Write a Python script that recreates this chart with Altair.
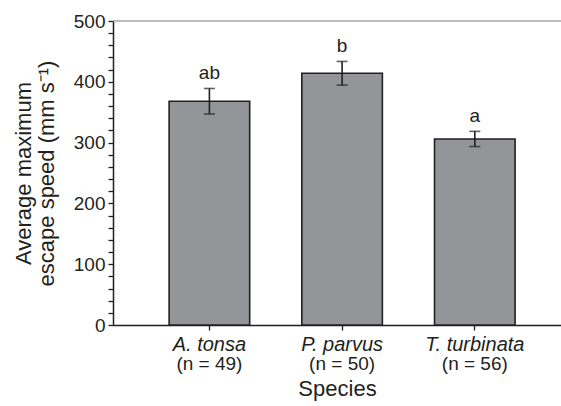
import altair as alt
import pandas as pd

species = ["A. tonsa", "P. parvus", "T. turbinata"]
n_labels = ["(n = 49)", "(n = 50)", "(n = 56)"]
means = [368, 414, 306]
errors = [21, 19.5, 12.5]
letters = ["ab", "b", "a"]

df = pd.DataFrame({
    "species": species,
    "nlab": n_labels,
    "mean": means,
    "err": errors,
    "letter": letters,
})
df["lo"] = df["mean"] - df["err"]
df["hi"] = df["mean"] + df["err"]

FONT = "Liberation Sans"
INK = "#231f20"
W, H = 448, 304

xscale = alt.Scale(domain=species, paddingInner=0.393, paddingOuter=0.3845, align=0.55)
yscale = alt.Scale(domain=[0, 500], nice=False)

X = alt.X("species:N", scale=xscale, sort=species,
          axis=alt.Axis(title="Species", labelAngle=0))
Y = alt.Y("mean:Q", scale=yscale,
          axis=alt.Axis(title=["Average maximum", "escape speed (mm s\u207b\u00b9)"]))

bars = alt.Chart(df).mark_bar(color="#939598", stroke=INK, strokeWidth=1.6).encode(
    x=X, y=Y)

base = alt.Chart(df)
rules = base.mark_rule(color=INK, strokeWidth=1.6).encode(
    x=X, y=alt.Y("lo:Q", scale=yscale), y2="hi:Q")
cap_lo = base.mark_tick(color=INK, thickness=1.6, size=11, orient="horizontal").encode(
    x=X, y=alt.Y("lo:Q", scale=yscale))
cap_hi = base.mark_tick(color=INK, thickness=1.6, size=11, orient="horizontal").encode(
    x=X, y=alt.Y("hi:Q", scale=yscale))
text = base.mark_text(font=FONT, fontSize=19, color=INK, baseline="bottom", dy=-5).encode(
    x=X, y=alt.Y("hi:Q", scale=yscale), text="letter:N")
ntext = base.mark_text(font=FONT, fontSize=19, color=INK, baseline="middle").encode(
    x=X, y=alt.value(H + 39), text="nlab:N")

top = alt.Chart(pd.DataFrame({"v": [500]})).mark_rule(color="#7a7a7a", strokeWidth=1.2).encode(
    y=alt.Y("v:Q", scale=yscale))

chart = alt.layer(bars, rules, cap_lo, cap_hi, text, top, ntext).properties(
    width=W, height=H,
    autosize=alt.AutoSizeParams(type="none"),
    padding={"left": 113, "top": 21, "right": 0, "bottom": 81},
).configure_view(stroke=None).configure_axis(
    grid=False, domainColor=INK, domainWidth=1.5, tickColor=INK, tickWidth=1.3,
    tickSize=5, labelColor=INK, labelFont=FONT, titleFont=FONT, titleColor=INK,
    titleFontWeight="normal",
).configure_axisX(
    labelFontSize=20, labelFontStyle="italic", labelPadding=4,
    titleFontSize=22, titlePadding=24,
).configure_axisY(
    labelFontSize=19, labelPadding=3, tickCount=25,
    labelExpr="datum.value % 100 == 0 ? datum.label : ''",
    titleFontSize=22, titlePadding=15, titleLineHeight=23,
)

chart.save("out.html", embed_options={"renderer": "svg", "actions": False})
